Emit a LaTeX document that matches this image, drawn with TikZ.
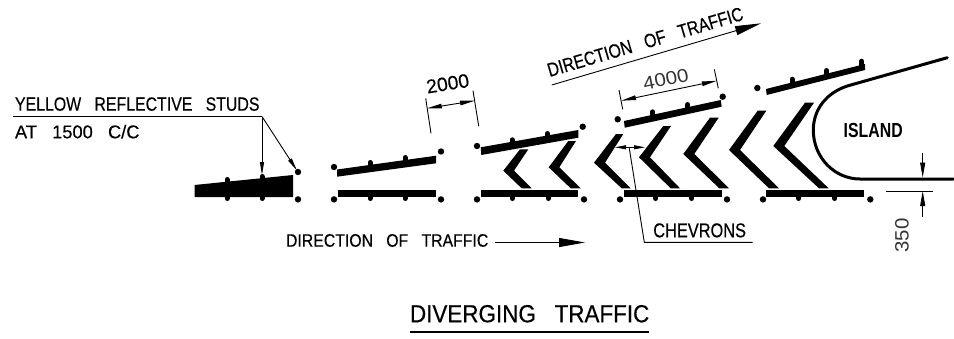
\documentclass[tikz,border=0pt]{standalone}
\usepackage{fontspec}
\usepackage{graphicx}
\setmainfont{Liberation Sans}
\newfontfamily\heavyfont[FakeBold=0.35]{Liberation Sans}
\usetikzlibrary{arrows.meta}
\newcommand{\fitt}[3]{\resizebox{#1pt}{#2pt}{#3}}
\newcommand{\gapp}{\ \ \ }
\tikzset{
  thinline/.style={line width=0.9pt,black},
  lbl/.style={anchor=base west,inner sep=0pt,outer sep=0pt,font=\heavyfont},
  lightlbl/.style={anchor=base west,inner sep=0pt,outer sep=0pt,text=black!80},
  studdot/.style={black,radius=3.2},
  stud/.style={line width=5pt,line cap=round,black},
  band/.style={fill=black,draw=none},
  chev/.style={fill=black,draw=none},
  dimline/.style={thinline,{Triangle[length=15pt,width=4.5pt]}-{Triangle[length=15pt,width=4.5pt]}},
  leadarrow/.style={thinline,-{Triangle[length=13pt,width=4pt]}},
  bigarrow/.style={thinline,-{Triangle[length=26pt,width=9pt]}},
  kerb/.style={line width=3pt,black,line cap=round},
}
\begin{document}
\begin{tikzpicture}[x=1pt,y=-1pt]
\useasboundingbox[fill=white] (0,0) rectangle (954,338);

% bottom bands
\foreach \a/\b in {338/436,480.7/578.3,624/721.7,766.3/864.3}
  \fill[band] (\a,190) rectangle (\b,197);
% bottom studs
\foreach \x in {227,262,370,405,512.3,548.3,655.7,691.7,798.7,834.7}
  \draw[stud] (\x,193) -- (\x,198.5);
% bottom dots
\foreach \x in {298,334,441,477,584,620,727,763,870.3}
  \fill[studdot] (\x,199.4) circle[];

% entry wedge
\fill[band] (194.5,185) -- (293,175) -- (293,197) -- (194.5,197) -- cycle;
\draw[stud] (227,179.5) -- (227,186);
\draw[stud] (262,176.5) -- (262,182);

% upper bands
\fill[band] (337,169.5) -- (436,155.7) -- (436,163.3) -- (337,176.7) -- cycle;
\fill[band] (480.7,147.3) -- (578.3,130) -- (578.3,137.7) -- (481.3,155) -- cycle;
\fill[band] (624,121) -- (720.7,100) -- (721.7,106.7) -- (624.7,127.7) -- cycle;
\fill[band] (766,89) -- (865,64) -- (865,70) -- (766.7,95) -- cycle;
% upper studs
\foreach \x/\y in {370/162.5,405/157.5,512/139.8,547.3/133.5,652.7/111.8,687.7/104.5,792/79.2,826.7/70.5,861.7/61.2}
  \draw[stud] (\x,\y) -- (\x,\y+4);
% upper dots
\foreach \x/\y in {298/172,334/167,441/151.5,477/146,582.7/126.7,617.7/119.3,722.7/96.7,757.3/88}
  \fill[studdot] (\x,\y) circle[];

% chevrons
\foreach \ta/\tb/\ytop/\to/\ti/\ty/\ba/\bb in {
  520/528.3/149.3/503.3/514/170.7/521.7/531.7,
  568.3/576/141/548.7/559.3/167.3/570.7/580.7,
  616/623.3/134/594/605/162.7/621.7/630.7,
  663.3/671/126/639/650/157.3/670.7/680,
  710/718.7/117.7/683.3/694.3/154/719.3/729,
  757.7/766.3/110.7/729/740/150/769/779,
  805/814/102.7/773.3/784.3/146/819/828.7}{
  \fill[chev] (\ta,\ytop) -- (\tb,\ytop) -- (\ti,\ty) -- (\bb,188.3) -- (\ba,188.3) -- (\to,\ty) -- cycle;
}

% island kerb
\draw[kerb] (947.3,57.7) -- (848.3,85.7) .. controls (826,92.5) and (813.3,110) .. (813.3,130)
  .. controls (813.3,158) and (835,179) .. (860,179) -- (953.3,179);

% studs leader
\coordinate (elbow) at (262,116.5);
\coordinate (legleft) at (13,116.5);
\coordinate (t1) at (262,175);
\coordinate (t2) at (297,170.5);
\draw[line width=1.3pt] (legleft) -- (elbow);
\draw[leadarrow] (elbow) -- (t1);
\draw[leadarrow] (elbow) -- (t2);
\node[lbl] (studs) at (15,110.7) {\fitt{244.5}{13.4}{YELLOW\gapp REFLECTIVE\gapp STUDS}};
\node[lbl] (spacing) at (15,138.3) {\fitt{124.5}{13.4}{AT\gapp 1500\gapp C/C}};

% 2000 dimension
\coordinate (d1a) at (425.7,98.3);  \coordinate (d1b) at (431,133.3);
\coordinate (d2a) at (473,90.7);    \coordinate (d2b) at (478.7,126);
\coordinate (d3a) at (426.8,108.4); \coordinate (d3b) at (475,100.7);
\draw[thinline] (d1a) -- (d1b);
\draw[thinline] (d2a) -- (d2b);
\draw[dimline] (d3a) -- (d3b);
\node[lbl,rotate=9] (dimA) at (427.5,93.5) {\fitt{43}{13.5}{2000}};

% 4000 dimension
\coordinate (e1a) at (619,90);      \coordinate (e1b) at (622.7,109.3);
\coordinate (e2a) at (714.3,69.3);  \coordinate (e2b) at (718.3,88.3);
\coordinate (e3a) at (621,100.7);   \coordinate (e3b) at (716.8,80.8);
\draw[thinline] (e1a) -- (e1b);
\draw[thinline] (e2a) -- (e2b);
\draw[dimline] (e3a) -- (e3b);
\node[lightlbl,rotate=11.7] (dimB) at (644.5,90) {\fitt{46}{13}{4000}};

% upper direction
\coordinate (u1) at (551.7,85);
\coordinate (u2) at (761,23.3);
\draw[bigarrow] (u1) -- (u2);
\node[lbl,rotate=16.4] (dirup) at (549.7,77) {\fitt{203}{13.5}{DIRECTION\gapp OF\gapp TRAFFIC}};

% lower direction
\coordinate (l1) at (495,242.5);
\coordinate (l2) at (585,242.5);
\draw[bigarrow] (l1) -- (l2);
\node[lbl] (dirlow) at (286,246.7) {\fitt{202.3}{12.6}{DIRECTION\gapp OF\gapp TRAFFIC}};

% chevrons label
\coordinate (c0) at (629.3,148.3);
\coordinate (c1) at (644.3,242.3);
\coordinate (c2) at (752.7,242.3);
\coordinate (c3) at (615,147.3);
\coordinate (c4) at (645,147.3);
\draw[thinline] (c0) -- (c1) -- (c2);
\draw[thinline,{Triangle[length=11pt,width=4pt]}-{Triangle[length=11pt,width=4pt]}] (c3) -- (c4);
\node[lbl] (chevrons) at (653.3,237.3) {\fitt{92.7}{14}{CHEVRONS}};

% island label
\node[anchor=base west,inner sep=0pt] (island) at (843.5,137.2) {\fitt{59}{14.2}{\bfseries ISLAND}};

% 350 dimension
\coordinate (k1) at (885.7,191);  \coordinate (k2) at (932.7,191);
\coordinate (k3) at (922.7,153.3);\coordinate (k4) at (922.7,177.5);
\coordinate (k5) at (922.7,216.7);\coordinate (k6) at (922.7,191);
\draw[thinline] (k1) -- (k2);
\draw[thinline,-{Triangle[length=15pt,width=5pt]}] (k3) -- (k4);
\draw[thinline,-{Triangle[length=15pt,width=5pt]}] (k5) -- (k6);
\node[lightlbl,rotate=90] (dimC) at (908.5,252.5) {\fitt{34}{13.5}{350}};

% title
\node[lbl] (title) at (410,322.3) {\fitt{239.3}{17.3}{DIVERGING\gapp TRAFFIC}};
\draw[line width=1.6pt] (410,332) -- (649.3,332);
\end{tikzpicture}
\end{document}
